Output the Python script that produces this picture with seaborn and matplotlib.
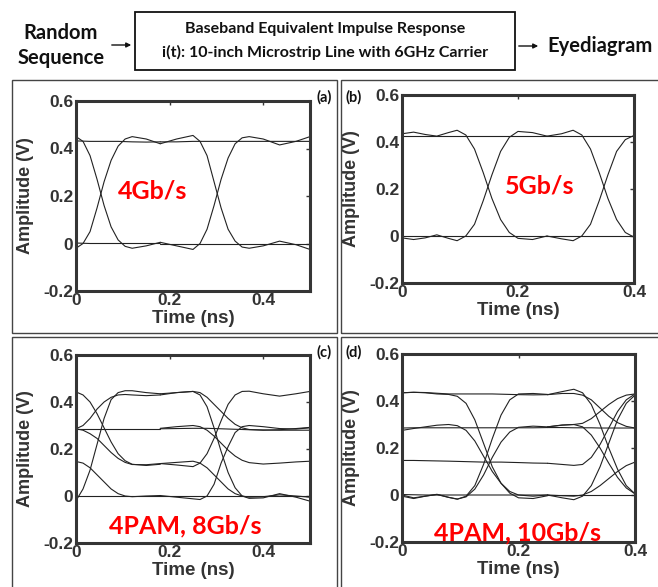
import matplotlib
matplotlib.use("Agg")
import matplotlib.pyplot as plt
import seaborn as sns
from matplotlib.patches import FancyArrowPatch, Rectangle

# ---------------------------------------------------------------------------
# Eye diagram traces (amplitude in V).
# Each eye is drawn as overlapping pieces: a left half and a right half,
# each piece sampled on its own time grid (ns).
# ---------------------------------------------------------------------------

# 4 Gb/s and 4PAM 8 Gb/s: window 0..0.5 ns
T_A_LEFT = [0, 0.015, 0.03, 0.045, 0.06, 0.075, 0.09, 0.105, 0.12, 0.15, 0.18]
T_A_RIGHT = [0.18, 0.215, 0.25, 0.265, 0.28, 0.295, 0.31, 0.325, 0.34, 0.355,
             0.37, 0.4, 0.435, 0.47, 0.5]

# 5 Gb/s and 4PAM 10 Gb/s: window 0..0.4 ns
T_B_LEFT = [0, 0.02, 0.04, 0.06, 0.08, 0.095, 0.11, 0.125, 0.14, 0.155, 0.17,
            0.185, 0.2, 0.225, 0.25]
T_B_RIGHT = [0.25, 0.275, 0.295, 0.31, 0.325, 0.34, 0.355, 0.37, 0.385, 0.4]

# (a) 4Gb/s
A_LEFT_HIGH = [0.432, 0.431, 0.43, 0.43, 0.43, 0.43, 0.43, 0.429, 0.428, 0.427, 0.428]
A_LEFT_LOW = [0.002, 0.001, 0.0, 0.0, 0.0, 0.0, 0.0, 0.0, 0.0, 0.0, 0.0]
A_LEFT_FALL = [0.45, 0.43, 0.37, 0.27, 0.16, 0.07, 0.015, -0.012, -0.02, -0.01, 0.005]
A_LEFT_RISE = [-0.02, 0.0, 0.05, 0.15, 0.26, 0.35, 0.41, 0.44, 0.45, 0.44, 0.42]
A_RIGHT_HIGH = [0.428, 0.428, 0.43, 0.43, 0.43, 0.43, 0.43, 0.43, 0.43, 0.43,
                0.43, 0.43, 0.43, 0.43, 0.43]
A_RIGHT_LOW = [0.0, 0.0, 0.0, 0.0, 0.0, 0.0, 0.0, 0.0, 0.0, 0.0, 0.0, 0.0, 0.0,
               0.0, 0.0]
A_RIGHT_FALL = [0.42, 0.44, 0.455, 0.43, 0.37, 0.26, 0.15, 0.06, 0.01, -0.015,
                -0.02, -0.01, 0.01, -0.005, -0.025]
A_RIGHT_RISE = [0.005, -0.01, -0.025, 0.0, 0.06, 0.16, 0.27, 0.36, 0.42, 0.445,
                0.45, 0.44, 0.415, 0.43, 0.45]

# (b) 5Gb/s
B_LEFT_HIGH = [0.425] * 15
B_LEFT_LOW = [0.0] * 15
B_LEFT_FALL = [0.435, 0.442, 0.432, 0.425, 0.44, 0.45, 0.43, 0.37, 0.27, 0.16,
               0.07, 0.015, -0.01, -0.015, 0.0]
B_LEFT_RISE = [-0.008, -0.015, -0.008, 0.005, -0.01, -0.02, 0.0, 0.05, 0.15, 0.26,
               0.36, 0.42, 0.445, 0.44, 0.425]
B_RIGHT_HIGH = [0.425] * 10
B_RIGHT_LOW = [0.0] * 10
B_RIGHT_FALL = [0.425, 0.435, 0.45, 0.43, 0.37, 0.27, 0.16, 0.07, 0.015, -0.005]
B_RIGHT_RISE = [0.0, -0.012, -0.02, 0.0, 0.05, 0.15, 0.26, 0.36, 0.41, 0.428]

# (c) 4PAM, 8Gb/s  (levels ~0, 0.14, 0.285, 0.43)
C_LEFT_22 = [0.286] * 11
C_LEFT_00 = [0.0] * 11
C_LEFT_31 = [0.443, 0.43, 0.40, 0.35, 0.29, 0.23, 0.18, 0.15, 0.135, 0.13, 0.135]
C_LEFT_21 = [0.286, 0.28, 0.265, 0.245, 0.215, 0.185, 0.16, 0.143, 0.134, 0.133, 0.138]
C_LEFT_23 = [0.286, 0.30, 0.33, 0.37, 0.40, 0.42, 0.43, 0.432, 0.43, 0.427, 0.43]
C_LEFT_10 = [0.147, 0.14, 0.12, 0.09, 0.06, 0.03, 0.01, 0.0, -0.003, 0.0, 0.002]
C_LEFT_03 = [-0.02, 0.03, 0.11, 0.22, 0.33, 0.41, 0.44, 0.448, 0.448, 0.44, 0.435]
C_RIGHT_22 = [0.286, 0.287, 0.288, 0.288, 0.288, 0.287, 0.286, 0.285, 0.284,
              0.283, 0.282, 0.281, 0.28, 0.28, 0.28]
C_RIGHT_00 = [0.0] * 15
C_RIGHT_30 = [0.435, 0.44, 0.445, 0.43, 0.38, 0.29, 0.19, 0.1, 0.035, 0.0, -0.01,
              -0.008, 0.01, -0.005, -0.022]
C_RIGHT_32 = [0.43, 0.44, 0.445, 0.44, 0.42, 0.39, 0.36, 0.33, 0.305, 0.29, 0.283,
              0.28, 0.282, 0.287, 0.292]
C_RIGHT_21 = [0.288, 0.295, 0.30, 0.295, 0.28, 0.255, 0.225, 0.195, 0.17, 0.152,
              0.142, 0.136, 0.14, 0.145, 0.148]
C_RIGHT_13 = [0.138, 0.132, 0.125, 0.14, 0.18, 0.245, 0.32, 0.39, 0.43, 0.445,
              0.446, 0.435, 0.425, 0.435, 0.445]
C_RIGHT_10 = [0.138, 0.143, 0.148, 0.14, 0.12, 0.09, 0.06, 0.03, 0.01, 0.0,
              -0.005, -0.003, 0.005, 0.0, -0.005]
C_RIGHT_02 = [0.002, -0.005, -0.012, -0.015, 0.0, 0.05, 0.14, 0.21, 0.27, 0.295,
              0.3, 0.295, 0.287, 0.285, 0.29]

# (d) 4PAM, 10Gb/s
D_LEFT_33 = [0.435, 0.437, 0.436, 0.433, 0.43, 0.43, 0.43, 0.43, 0.43, 0.43,
             0.429, 0.428, 0.427, 0.426, 0.427]
D_LEFT_30 = [0.435, 0.437, 0.435, 0.43, 0.428, 0.42, 0.39, 0.32, 0.22, 0.12,
             0.05, 0.008, -0.012, -0.015, -0.003]
D_LEFT_22 = [0.285, 0.286, 0.286, 0.286, 0.286, 0.286, 0.286, 0.286, 0.286,
             0.286, 0.286, 0.286, 0.286, 0.286, 0.287]
D_LEFT_20 = [0.275, 0.283, 0.29, 0.297, 0.30, 0.295, 0.275, 0.23, 0.165, 0.1,
             0.05, 0.015, 0.0, -0.005, 0.0]
D_LEFT_11 = [0.147, 0.147, 0.146, 0.145, 0.144, 0.143, 0.142, 0.141, 0.14, 0.14,
             0.14, 0.139, 0.138, 0.136, 0.135]
D_LEFT_00 = [0.002, 0.001, 0.0, 0.0, 0.0, 0.0, 0.0, 0.0, 0.0, 0.0, 0.0, 0.0,
             0.0, 0.0, 0.0]
D_LEFT_03 = [-0.005, -0.015, -0.005, 0.003, -0.01, -0.018, -0.005, 0.04, 0.13,
             0.24, 0.34, 0.405, 0.43, 0.432, 0.428]
D_LEFT_02 = [0.0, -0.012, -0.005, 0.002, -0.01, -0.017, -0.008, 0.025, 0.085,
             0.16, 0.225, 0.268, 0.288, 0.293, 0.29]
D_RIGHT_30 = [0.427, 0.44, 0.45, 0.435, 0.385, 0.3, 0.2, 0.11, 0.04, 0.005]
D_RIGHT_32 = [0.427, 0.432, 0.432, 0.425, 0.405, 0.37, 0.335, 0.308, 0.292, 0.285]
D_RIGHT_22 = [0.287, 0.287, 0.286, 0.286, 0.286, 0.285, 0.285, 0.285, 0.285, 0.285]
D_RIGHT_20 = [0.29, 0.298, 0.30, 0.29, 0.255, 0.2, 0.135, 0.075, 0.03, 0.005]
D_RIGHT_23 = [0.29, 0.297, 0.30, 0.305, 0.325, 0.355, 0.385, 0.41, 0.425, 0.43]
D_RIGHT_13 = [0.135, 0.13, 0.126, 0.13, 0.16, 0.215, 0.285, 0.355, 0.405, 0.43]
D_RIGHT_03 = [0.0, -0.012, -0.02, -0.005, 0.04, 0.12, 0.22, 0.32, 0.39, 0.425]
D_RIGHT_01 = [0.0, -0.003, -0.005, 0.0, 0.015, 0.04, 0.07, 0.1, 0.125, 0.14]
D_RIGHT_00 = [0.0] * 10

X_TICKS = [0, 0.2, 0.4]
X_TICK_LABELS = ["0", "0.2", "0.4"]
Y_TICKS = [-0.2, 0, 0.2, 0.4, 0.6]
Y_TICK_LABELS = ["-0.2", "0", "0.2", "0.4", "0.6"]

PANEL_LETTERS = ["(a)", "(b)", "(c)", "(d)"]
RATE_LABELS = ["4Gb/s", "5Gb/s", "4PAM, 8Gb/s", "4PAM, 10Gb/s"]

# ---------------------------------------------------------------------------
FIG_W, FIG_H = 658, 587
TRACE = "#222222"
AXIS_GREY = "#353535"
CAL = ["Lato", "DejaVu Sans"]


def fx(px):
    return px / FIG_W


def fy(py):
    return 1 - py / FIG_H


def px_rect(x0, y0, x1, y1):
    """Axes rectangle from pixel corners (top-left origin)."""
    return [fx(x0), fy(y1), (x1 - x0) / FIG_W, (y1 - y0) / FIG_H]


def draw_eye(ax, t_left, left, t_right, right, x_end):
    """Draw the overlapping eye-diagram pieces and style the axes MATLAB-like."""
    for y in left:
        sns.lineplot(x=t_left, y=y, ax=ax, color=TRACE, linewidth=0.8,
                     estimator=None, sort=False)
    for y in right:
        sns.lineplot(x=t_right, y=y, ax=ax, color=TRACE, linewidth=0.8,
                     estimator=None, sort=False)

    ax.set_xlim(0, x_end)
    ax.set_ylim(-0.2, 0.6)
    ax.set_xticks(X_TICKS)
    ax.set_xticklabels(X_TICK_LABELS)
    ax.set_yticks(Y_TICKS)
    ax.set_yticklabels(Y_TICK_LABELS)
    ax.tick_params(direction="in", length=3, width=1, top=True, right=True,
                   color=AXIS_GREY, labelcolor="#333333", labelsize=12.5)
    ax.tick_params(axis="x", pad=1.5)
    ax.tick_params(axis="y", pad=2)
    for spine in ax.spines.values():
        spine.set_linewidth(2.2)
        spine.set_color(AXIS_GREY)
    ax.set_xlabel("Time (ns)", fontsize=13.5, fontweight="bold", color="#333333")
    ax.set_ylabel("Amplitude (V)", fontsize=13, fontweight="bold", color="#333333")
    ax.xaxis.set_label_coords(0.5, -0.1)
    ax.yaxis.set_label_coords(-0.18, 0.5)
    ax.grid(False)


sns.set_style("white")
plt.rcParams["font.family"] = ["Liberation Sans", "DejaVu Sans"]
plt.rcParams["font.weight"] = "bold"

fig = plt.figure(figsize=(FIG_W / 100, FIG_H / 100), dpi=100)

# panel frames
for x0, y0, x1, y1 in [(12, 80, 337, 333), (341, 80, 662, 333),
                       (12, 337, 337, 592), (341, 337, 662, 592)]:
    fig.add_artist(Rectangle((fx(x0), fy(y1)), (x1 - x0) / FIG_W, (y1 - y0) / FIG_H,
                             transform=fig.transFigure, fill=False,
                             edgecolor="#444444", linewidth=1.0))

# block diagram on top
fig.text(fx(61), fy(33), "Random", family=CAL, fontweight="bold", fontsize=14.5,
         ha="center", va="center", color="#111111")
fig.text(fx(61), fy(58), "Sequence", family=CAL, fontweight="bold", fontsize=14.5,
         ha="center", va="center", color="#111111")
fig.add_artist(Rectangle((fx(135), fy(70)), 380 / FIG_W, 58 / FIG_H,
                         transform=fig.transFigure, fill=False,
                         edgecolor="#111111", linewidth=1.3))
fig.text(fx(325), fy(29), "Baseband Equivalent Impulse Response", family=CAL,
         fontweight="bold", fontsize=11.5, ha="center", va="center", color="#111111")
fig.text(fx(325), fy(52), "i(t): 10-inch Microstrip Line with 6GHz Carrier",
         family=CAL, fontweight="bold", fontsize=11.5, ha="center", va="center",
         color="#111111")
fig.text(fx(600), fy(46), "Eyediagram", family=CAL, fontweight="bold",
         fontsize=14.5, ha="center", va="center", color="#111111")
for xa, xb, ya in [(109, 134, 45), (516, 541, 46)]:
    fig.add_artist(FancyArrowPatch((fx(xa), fy(ya)), (fx(xb), fy(ya)),
                                   transform=fig.transFigure, arrowstyle="-|>",
                                   mutation_scale=7, linewidth=1.0, color="#111111"))

axes_boxes = [px_rect(76, 101, 310, 291), px_rect(402, 95, 634, 283),
              px_rect(76, 355, 310, 543), px_rect(402, 354, 635, 542)]
eyes = [
    (T_A_LEFT, [A_LEFT_HIGH, A_LEFT_LOW, A_LEFT_FALL, A_LEFT_RISE],
     T_A_RIGHT, [A_RIGHT_HIGH, A_RIGHT_LOW, A_RIGHT_FALL, A_RIGHT_RISE], 0.5),
    (T_B_LEFT, [B_LEFT_HIGH, B_LEFT_LOW, B_LEFT_FALL, B_LEFT_RISE],
     T_B_RIGHT, [B_RIGHT_HIGH, B_RIGHT_LOW, B_RIGHT_FALL, B_RIGHT_RISE], 0.4),
    (T_A_LEFT, [C_LEFT_22, C_LEFT_00, C_LEFT_31, C_LEFT_21, C_LEFT_23, C_LEFT_10,
                C_LEFT_03],
     T_A_RIGHT, [C_RIGHT_22, C_RIGHT_00, C_RIGHT_30, C_RIGHT_32, C_RIGHT_21,
                 C_RIGHT_13, C_RIGHT_10, C_RIGHT_02], 0.5),
    (T_B_LEFT, [D_LEFT_33, D_LEFT_30, D_LEFT_22, D_LEFT_20, D_LEFT_11, D_LEFT_00,
                D_LEFT_03, D_LEFT_02],
     T_B_RIGHT, [D_RIGHT_30, D_RIGHT_32, D_RIGHT_22, D_RIGHT_20, D_RIGHT_23,
                 D_RIGHT_13, D_RIGHT_03, D_RIGHT_01, D_RIGHT_00], 0.4),
]
letter_pos = [(324, 97), (354, 97), (324, 352), (354, 352)]
rate_pos = [(153, 191), (540, 186), (185, 526), (518, 533)]

for box, eye, letter, lpos, rate, rpos in zip(axes_boxes, eyes, PANEL_LETTERS,
                                              letter_pos, RATE_LABELS, rate_pos):
    ax = fig.add_axes(box)
    draw_eye(ax, *eye)
    fig.text(fx(lpos[0]), fy(lpos[1]), letter, family=CAL, fontweight="bold",
             fontsize=10.5, ha="center", va="center", color="#111111")
    fig.text(fx(rpos[0]), fy(rpos[1]), rate, family=CAL, fontweight="bold",
             fontsize=18, ha="center", va="center", color="#ff0000")

fig.savefig("out.png", dpi=100)
